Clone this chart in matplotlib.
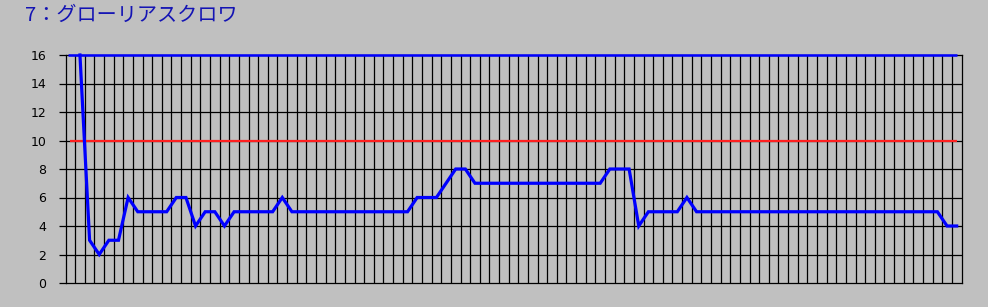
import matplotlib
matplotlib.use('Agg')
import matplotlib.pyplot as plt

# horse name and per-column values
title = '7：グローリアスクロワ'
n_cols = 93
positions = list(range(1, 93))
values = [16, 3, 2, 3, 3, 6, 5, 5, 5, 5,
          6, 6, 4, 5, 5, 4, 5, 5, 5, 5,
          5, 6, 5, 5, 5, 5, 5, 5, 5, 5,
          5, 5, 5, 5, 5, 6, 6, 6, 7, 8,
          8, 7, 7, 7, 7, 7, 7, 7, 7, 7,
          7, 7, 7, 7, 7, 8, 8, 8, 4, 5,
          5, 5, 5, 6, 5, 5, 5, 5, 5, 5,
          5, 5, 5, 5, 5, 5, 5, 5, 5, 5,
          5, 5, 5, 5, 5, 5, 5, 5, 5, 5,
          4, 4]
top_level = 16
red_level = 10
yticks = [0, 2, 4, 6, 8, 10, 12, 14, 16]

bg = '#c0c0c0'
fig = plt.figure(figsize=(9.88, 3.07), dpi=100, facecolor=bg)
ax = fig.add_axes([65.5 / 988, 24 / 307, 896 / 988, 228 / 307])
ax.set_facecolor(bg)

ax.set_xlim(-0.5, n_cols - 0.5)
ax.set_ylim(0, 16)

# grid
for k in range(n_cols - 1):
    ax.axvline(k + 0.5, color='black', lw=0.9, zorder=1)
for y in yticks[1:-1]:
    ax.axhline(y, color='black', lw=0.9, zorder=1)

ax.hlines(red_level, 0, n_cols - 1, color='#ff2020', lw=1.6, zorder=2)
ax.hlines(top_level, -0.2, n_cols - 1, color='#0000ff', lw=1.8, zorder=3, clip_on=False)
ax.plot(positions, values, color='#0000ff', lw=2.3, zorder=4, clip_on=False,
        solid_joinstyle='miter')

ax.set_xticks([])
ax.set_yticks(yticks)
ax.tick_params(axis='y', length=5, width=0.9, pad=9, labelsize=9, colors='black')
for s in ax.spines.values():
    s.set_color('black')
    s.set_linewidth(0.9)

fig.text(25 / 988, 1 - 15 / 307, title, color='#1414b4', fontsize=14.5,
         family=['Noto Sans CJK JP', 'DejaVu Sans'], va='center', ha='left')

fig.savefig('out.png', dpi=100, facecolor=bg)
